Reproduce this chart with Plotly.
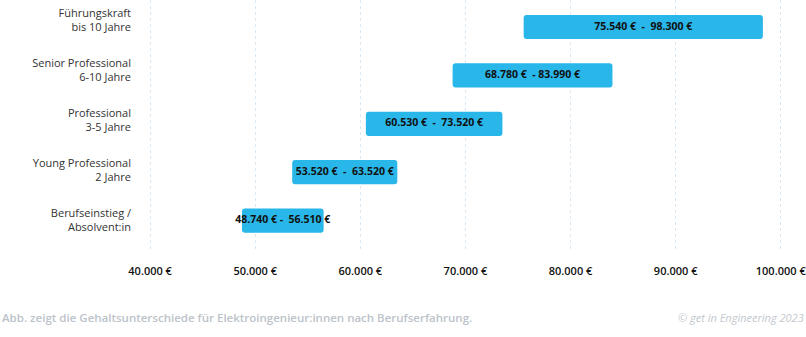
import plotly.graph_objects as go

categories = ["Führungskraft<br>bis 10 Jahre", "Senior Professional<br>6-10 Jahre",
              "Professional<br>3-5 Jahre", "Young Professional<br>2 Jahre",
              "Berufseinstieg /<br>Absolvent:in"]
salary_min = [75540, 68780, 60530, 53520, 48740]
salary_max = [98300, 83990, 73520, 63520, 56510]
tick_values = [40000, 50000, 60000, 70000, 80000, 90000, 100000]
tick_labels = ["40.000 €", "50.000 €", "60.000 €", "70.000 €", "80.000 €", "90.000 €", "100.000 €"]

def fmt(v):
    return f"{v:,}".replace(",", ".") + " €"

nb = "\u00a0"
labels = [f"{fmt(a)}{nb}{nb}-{nb}{nb}{fmt(b)}" for a, b in zip(salary_min, salary_max)]
labels[1] = f"{fmt(salary_min[1])}{nb}{nb}-{nb}{fmt(salary_max[1])}"
labels[4] = f"{fmt(salary_min[4])}{nb}-{nb}{nb}{fmt(salary_max[4])}"
labels = [s.replace(" ", nb) for s in labels]
mids = [(a + b) / 2 for a, b in zip(salary_min, salary_max)]
idx = list(range(len(categories)))

fig = go.Figure()
fig.add_trace(go.Bar(
    y=idx, x=[b - a for a, b in zip(salary_min, salary_max)], base=salary_min,
    orientation="h", width=0.5, marker=dict(color="#29b6e9", line=dict(width=0)),
    hoverinfo="skip", showlegend=False,
))
fig.add_trace(go.Scatter(
    y=idx, x=mids, mode="text", text=labels,
    textfont=dict(family="Open Sans", size=10.5, color="#111111", weight=700),
    hoverinfo="skip", showlegend=False,
))
# invisible trace carrying the category label axis
fig.add_trace(go.Scatter(
    y=idx, x=[salary_min[0]] * len(idx), yaxis="y2", mode="markers",
    marker=dict(opacity=0), hoverinfo="skip", showlegend=False,
))

fig.update_layout(
    width=806, height=337,
    margin=dict(l=148, r=20, t=0, b=86),
    paper_bgcolor="white", plot_bgcolor="white",
    barcornerradius=3,
    font=dict(family="Open Sans", color="#333333"),
    xaxis=dict(range=[39800, 100500], tickvals=tick_values, ticktext=tick_labels,
               showgrid=True, gridcolor="#d9e8f3", griddash="dot", gridwidth=1,
               zeroline=False, showline=False, ticklabeloverflow="allow",
               tickfont=dict(family="Open Sans", size=11, color="#111111", weight=600),
               ticklabelstandoff=12, fixedrange=True),
    yaxis=dict(range=[4.628, -0.558], tickvals=idx, showticklabels=False,
               showgrid=False, zeroline=False, showline=False, fixedrange=True),
    yaxis2=dict(range=[4.61, -0.41], tickvals=idx, ticktext=categories,
                overlaying="y", side="left",
                showgrid=False, zeroline=False, showline=False,
                tickfont=dict(family="Open Sans", size=11, color="#333333"),
                ticklabelstandoff=16, fixedrange=True),
    annotations=[
        dict(text="Abb. zeigt die Gehaltsunterschiede für Elektroingenieur:innen nach Berufserfahrung.",
             xref="paper", yref="paper", x=-148/638, y=-66/251, xanchor="left", yanchor="middle",
             showarrow=False, font=dict(family="Open Sans", size=11.5, color="#bcc3ca", weight=600)),
        dict(text="<i>© get in Engineering 2023</i>",
             xref="paper", yref="paper", x=1 + 20/638, y=-66/251, xanchor="right", yanchor="middle",
             showarrow=False, font=dict(family="Open Sans", size=11, color="#c2c8ce")),
    ],
)
fig.write_html("out.html")
